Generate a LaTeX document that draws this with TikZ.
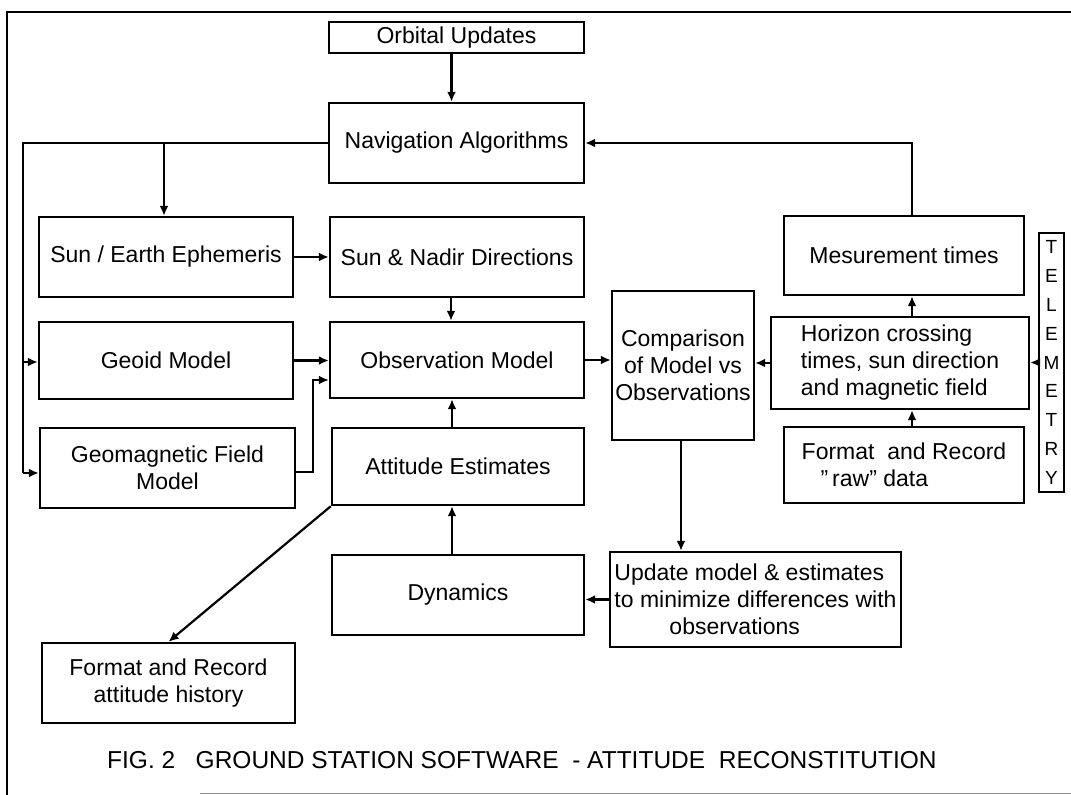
\documentclass[tikz,border=0pt]{standalone}
\usepackage{fontspec}
\setmainfont{Liberation Sans}
\usetikzlibrary{arrows.meta,calc}
\begin{document}
\begin{tikzpicture}[x=1pt,y=-1pt,
  box/.style={draw, line width=2.4pt, inner sep=0pt, align=center, font=\fontsize{23}{27}\selectfont},
  conn/.style={line width=2.2pt},
  arr/.style={conn, -{Latex[length=10pt,width=9pt]}},
  frame/.style={line width=1.8pt}
]
\useasboundingbox (0,0) rectangle (1071,795);
% frame
\draw[frame] (1071,12) -- (7,12) -- (7,795);
\draw[line width=1pt, black!45] (200,793) -- (1071,793);

% boxes
\node[box, minimum width=255, minimum height=31] (orb) at (456.5,37.5) {\raisebox{-4pt}{Orbital Updates}};
\node[box, minimum width=255, minimum height=80] (nav) at (456.5,143) {Navigation Algorithms};
\node[box, minimum width=254, minimum height=80] (se) at (166,257) {Sun / Earth Ephemeris};
\node[box, minimum width=254, minimum height=80] (sn) at (457,257) {Sun \& Nadir Directions};
\node[box, minimum width=254, minimum height=77] (geoid) at (166,360.5) {Geoid Model};
\node[box, minimum width=254, minimum height=76] (obs) at (457,360) {Observation Model};
\node[box, minimum width=255, minimum height=80] (geomag) at (167.5,468) {Geomagnetic Field\\Model};
\node[box, minimum width=252, minimum height=77] (att) at (458,466.5) {Attitude Estimates};
\node[box, minimum width=252, minimum height=80] (dyn) at (458,595) {Dynamics};
\node[box, minimum width=253, minimum height=80] (fatt) at (168.5,683) {Format and Record\\attitude history};
\node[box, minimum width=142, minimum height=149] (cmp) at (683,365.5) {Comparison\\of Model vs\\Observations};
\node[box, minimum width=258, minimum height=92, align=left] (hor) at (900,363) {Horizon crossing\\times, sun direction\\and magnetic field};
\node[box, minimum width=240, minimum height=79] (mes) at (904,255.5) {Mesurement times};
\node[box, minimum width=240, minimum height=76, align=left] (fraw) at (904,465) {Format\ \ and Record\\\hspace{19pt}\char34\,raw\char34\ data};
\node[box, minimum width=291, minimum height=95, align=left] (upd) at (755.5,599.5) {Update model \& estimates\\to minimize differences with\\\hspace{55pt}observations};
\node[box, minimum width=25, minimum height=259, font=\fontsize{19}{28.8}\selectfont] (tel) at (1051.5,362.5) {T\\E\\L\\E\\M\\E\\T\\R\\Y};

% caption
\node[anchor=west, inner sep=0pt, font=\fontsize{24.5}{28}\selectfont] (cap) at (107,760) {FIG.~2\ \ \ GROUND STATION SOFTWARE\ \ -~ATTITUDE\ \ RECONSTITUTION};

% connectors
\draw[arr] ([xshift=-5pt]orb.south) -- ([xshift=-5pt]nav.north);
\coordinate (bt) at (23,143);
\coordinate (bb) at (23,473);
\coordinate (bgeo) at (23,362);
\coordinate (bse) at (164,143);
\draw[conn] (nav.west) -- (bt) -- (bb);
\draw[arr] (bb) -- (bb -| geomag.west);
\draw[arr] (bgeo) -- (bgeo -| geoid.west);
\draw[arr] (bse) -- (bse |- se.north);
\draw[arr] (se.east) -- (sn.west);
\draw[arr] ([xshift=-6pt]sn.south) -- ([xshift=-6pt]obs.north);
\draw[arr] (geoid.east) -- (geoid.east -| obs.west);
\coordinate (gm) at (313,380);
\draw[arr] ([yshift=-4pt]geomag.east) -| (gm) -- (gm -| obs.west);
\draw[arr] ([xshift=-6pt]att.north) -- ([xshift=-6pt]att.north |- obs.south);
\draw[arr] ([xshift=-6pt]dyn.north) -- ([xshift=-6pt]dyn.north |- att.south);
\draw[arr] (att.south west) -- (fatt.north);
\draw[arr] (upd.west) -- (upd.west -| dyn.east);
\draw[arr] ([xshift=-2pt]cmp.south) -- ([xshift=-2pt]cmp.south |- upd.north);
\draw[arr] (obs.east) -- (obs.east -| cmp.west);
\draw[arr] (hor.west) -- (hor.west -| cmp.east);
\draw[arr] (tel.west) -- (tel.west -| hor.east);
\draw[arr] ([xshift=12pt]hor.north) -- ([xshift=12pt]hor.north |- mes.south);
\draw[arr] ([xshift=8pt]fraw.north) -- ([xshift=8pt]fraw.north |- hor.south);
\draw[arr] ([xshift=8pt]mes.north) |- (nav.east);
\end{tikzpicture}
\end{document}
